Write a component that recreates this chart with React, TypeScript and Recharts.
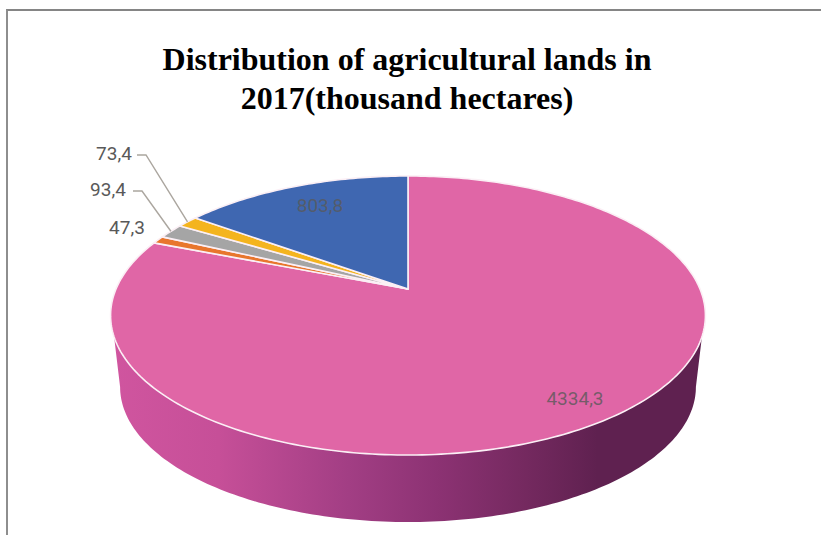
import { Cell, Pie, PieChart } from "recharts";

const SLICE_IDS = ["a", "b", "c", "d", "e"];
const VALUES = [4334.3, 47.3, 93.4, 73.4, 803.8];
const COLORS = ["#E066A6", "#E8762D", "#A5A5A5", "#F4B41E", "#3F67B1"];

const WALL_STOPS = [
  { at: "0%", color: "#D0559F" },
  { at: "18%", color: "#C64F98" },
  { at: "40%", color: "#A23E84" },
  { at: "55%", color: "#8C3273" },
  { at: "70%", color: "#74295F" },
  { at: "82%", color: "#5F2150" },
  { at: "100%", color: "#5F2150" },
];

const TITLE_LINES = ["Distribution of agricultural lands in", "2017(thousand hectares)"];

// label centres per slice; elbow is where a leader line leaves the text
const LABEL_SPOTS = [
  { x: 575, y: 398 },
  { x: 127, y: 227 },
  { x: 108, y: 189 },
  { x: 114, y: 153 },
  { x: 320, y: 205 },
];
const LEADER_STARTS = [null, null, [133, 191, 142, 191], [137, 155, 146, 155], null];

const CX = 408;
const CY = 289;
const RADIUS = 292;

// perspective of the tilted disc: far edge shrinks, near edge grows
const DEPTH = 0.19;
const SQUASH = 0.4606;

// bottom rim of the wall
const FLOOR_SCALE = 0.968;
const FLOOR_CY = 361.3;

type Pt = [number, number];

// theta is clockwise from twelve o'clock, in degrees
function project(theta: number, r: number, cx: number, cy: number): Pt {
  const t = (theta * Math.PI) / 180;
  const w = 1 + DEPTH * Math.cos(t);
  return [cx + (r * Math.sin(t)) / w, cy - (r * SQUASH * Math.cos(t)) / w];
}

function rim(from: number, to: number, r: number, cx: number, cy: number): Pt[] {
  const steps = Math.max(1, Math.ceil(Math.abs(to - from)));
  const pts: Pt[] = [];
  for (let i = 0; i <= steps; i++) {
    pts.push(project(from + ((to - from) * i) / steps, r, cx, cy));
  }
  return pts;
}

function toPath(pts: Pt[]) {
  return pts.map((p, i) => `${i ? "L" : "M"}${p[0].toFixed(2)} ${p[1].toFixed(2)}`).join("") + "Z";
}

function TopSlice(props: any) {
  const { cx, cy, outerRadius, startAngle, endAngle, fill } = props;
  const pts: Pt[] = [[cx, cy], ...rim(90 - startAngle, 90 - endAngle, outerRadius, cx, cy)];
  return <path d={toPath(pts)} fill={fill} stroke="#FBEFF5" strokeWidth={1.6} strokeLinejoin="round" />;
}

function WallSlice(props: any) {
  const { cx, cy, outerRadius, startAngle, endAngle } = props;
  const a = 90 - startAngle;
  const b = 90 - endAngle;
  // only the near side of the disc shows a wall
  if (b < 101 || a > 259) return <g />;
  const top = rim(Math.max(a, 109.5), Math.min(b, 250.5), outerRadius, cx, cy);
  const floor = rim(Math.min(b, 259), Math.max(a, 101), outerRadius * FLOOR_SCALE, cx, FLOOR_CY);
  return <path d={toPath([...top, ...floor])} fill="url(#wallFill)" />;
}

function SliceLabel(props: any) {
  const { index, value, cx, cy, outerRadius, midAngle } = props;
  const spot = LABEL_SPOTS[index];
  const lead = LEADER_STARTS[index];
  const inside = index === 0 || index === 4;
  const end = project(90 - midAngle, outerRadius, cx, cy);
  return (
    <g>
      {lead && (
        <polyline
          points={`${lead[0]},${lead[1]} ${lead[2]},${lead[3]} ${end[0]},${end[1]}`}
          fill="none"
          stroke="#ABA69F"
          strokeWidth={1.4}
        />
      )}
      <text
        x={spot.x}
        y={spot.y}
        textAnchor="middle"
        dominantBaseline="central"
        fontFamily="Roboto"
        fontSize={19}
        fill="#595959"
        fillOpacity={inside ? 0.8 : 1}
      >
        {String(value).replace(".", ",")}
      </text>
    </g>
  );
}

const DATA = SLICE_IDS.map((id, i) => ({ id, value: VALUES[i] }));

export default function App() {
  return (
    <div style={{ position: "absolute", left: 0, top: 0, width: 821, height: 535, background: "#fff", overflow: "hidden" }}>
      <div style={{ position: "absolute", left: 6, top: 9, right: 0, bottom: 0, borderTop: "2px solid #858585", borderLeft: "2px solid #8E8E8E" }} />
      <div
        style={{
          position: "absolute",
          left: 0,
          width: 814,
          top: 40,
          textAlign: "center",
          fontFamily: "'Liberation Serif'",
          fontWeight: 700,
          fontSize: 32,
          lineHeight: "39px",
          color: "#000",
        }}
      >
        {TITLE_LINES.map((line) => (
          <div key={line}>{line}</div>
        ))}
      </div>
      <div style={{ position: "absolute", left: 0, top: 0 }}>
        <PieChart width={821} height={535} margin={{ top: 0, right: 0, bottom: 0, left: 0 }}>
          <defs>
            <linearGradient id="wallFill" gradientUnits="userSpaceOnUse" x1={112} y1={0} x2={704} y2={0}>
              {WALL_STOPS.map((s) => (
                <stop key={s.at} offset={s.at} stopColor={s.color} />
              ))}
            </linearGradient>
          </defs>
          <Pie
            data={DATA}
            dataKey="value"
            nameKey="id"
            cx={CX}
            cy={CY}
            outerRadius={RADIUS}
            startAngle={90}
            endAngle={-270}
            shape={WallSlice}
            label={false}
            labelLine={false}
            isAnimationActive={false}
          />
          <Pie
            data={DATA}
            dataKey="value"
            nameKey="id"
            cx={CX}
            cy={CY}
            outerRadius={RADIUS}
            startAngle={90}
            endAngle={-270}
            shape={TopSlice}
            label={SliceLabel}
            labelLine={false}
            isAnimationActive={false}
          >
            {COLORS.map((c, i) => (
              <Cell key={SLICE_IDS[i]} fill={c} />
            ))}
          </Pie>
        </PieChart>
      </div>
    </div>
  );
}
